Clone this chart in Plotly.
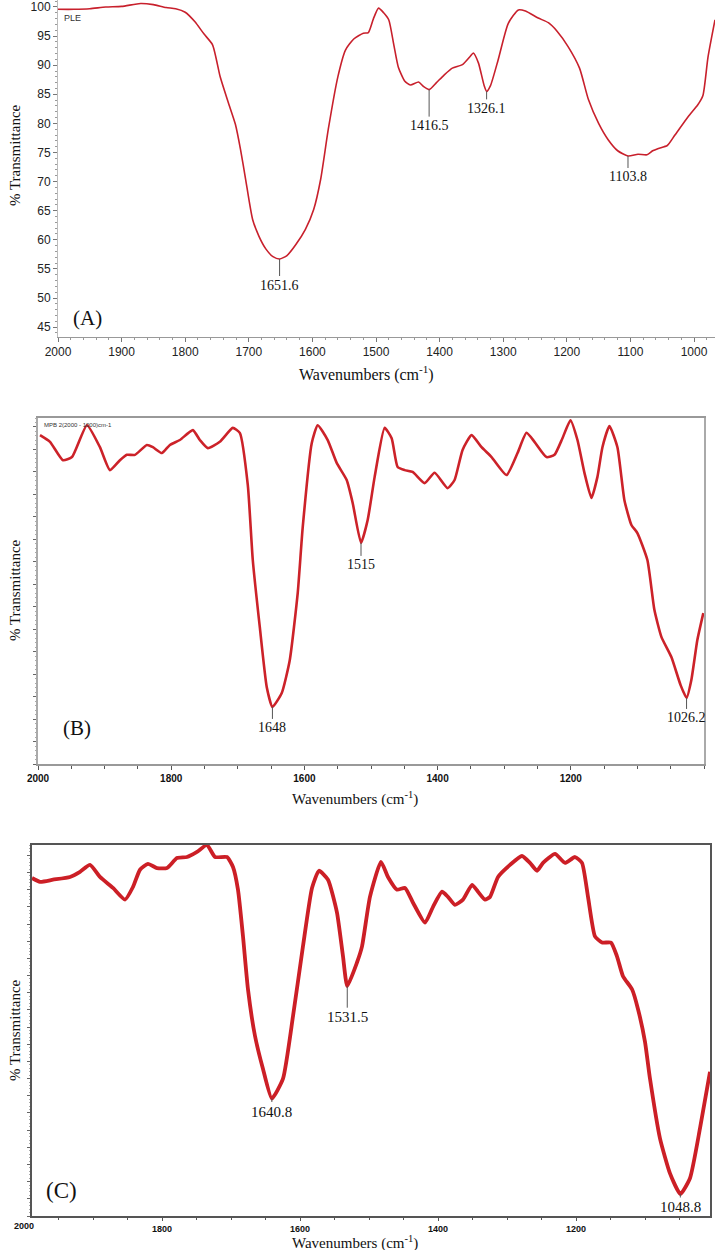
import plotly.graph_objects as go

# ---------------- Panel A data ----------------
wn_a = [2000, 1975, 1950, 1925, 1900, 1870, 1850, 1830, 1815, 1800, 1785, 1770, 1757, 1745,
        1732, 1721, 1713, 1705, 1694, 1684, 1673, 1662, 1651.6, 1640, 1626, 1611, 1598, 1587,
        1575, 1560, 1548, 1535, 1520, 1512, 1504, 1496, 1488, 1480, 1472, 1465, 1455, 1446,
        1433, 1425, 1416.5, 1405, 1393, 1380, 1364, 1352, 1347, 1339, 1330, 1326.1, 1320,
        1308, 1292, 1276, 1265, 1245, 1229, 1215, 1198, 1180, 1166, 1150, 1135, 1120, 1103.8,
        1088, 1074, 1065, 1056, 1042, 1030, 1009, 994, 986, 978, 967]
t_a = [99.6, 99.6, 99.7, 100.0, 100.1, 100.6, 100.4, 99.9, 99.7, 99.1, 97.5, 95.3, 93.5, 88.0,
       83.5, 79.8, 75.5, 70.4, 63.5, 60.6, 58.4, 57.1, 56.7, 57.3, 59.2, 61.8, 65.2, 70.4,
       79.0, 88.0, 92.6, 94.5, 95.5, 95.6, 98.0, 99.8, 99.0, 97.8, 93.5, 89.7, 87.3, 86.6,
       87.1, 86.3, 85.8, 87.0, 88.3, 89.5, 90.1, 91.5, 92.1, 90.4, 86.5, 85.5, 86.5,
       90.9, 97.2, 99.5, 99.3, 98.1, 97.3, 95.8, 93.2, 89.5, 84.1, 80.0, 77.2, 75.3, 74.4,
       74.7, 74.6, 75.3, 75.7, 76.2, 78.0, 81.2, 83.2, 84.8, 91.4, 97.8]
peaks_a = [1651.6, 1416.5, 1326.1, 1103.8]
peak_t_a = [56.7, 85.8, 85.5, 74.4]
peak_lbl_a = ["1651.6", "1416.5", "1326.1", "1103.8"]
peak_off_a = [26, 36, 17, 21]
yticks_a = [45, 50, 55, 60, 65, 70, 75, 80, 85, 90, 95, 100]
xticks_a = [2000, 1900, 1800, 1700, 1600, 1500, 1400, 1300, 1200, 1100, 1000]

# ---------------- Panel B data ----------------
wn_b = [1997, 1982, 1962.5, 1949, 1926.5, 1907, 1892, 1877, 1866.5, 1854.5, 1836.5, 1827.5,
        1814, 1802, 1787, 1767.5, 1757, 1745, 1727, 1707.5, 1697, 1685, 1677.5, 1667, 1656.5,
        1648, 1634, 1622, 1610, 1602.5, 1589, 1580, 1565, 1551.5, 1536.5, 1527.5, 1515,
        1505, 1494.5, 1479.5, 1469, 1460, 1449.5, 1437.5, 1419.5, 1404.5, 1385, 1374.5,
        1362.5, 1349, 1334, 1319, 1296.5, 1280, 1266.5, 1254.5, 1236.5, 1224.5, 1212.5,
        1200.5, 1190, 1179.5, 1169, 1160, 1152.5, 1142, 1130, 1119.5, 1109, 1100, 1085,
        1074.5, 1064, 1049, 1035, 1026.2, 1019, 1010, 1001]
t_b = [73.2, 71.7, 67.6, 68.3, 75.4, 70.5, 65.4, 67.6, 68.8, 68.8, 71.0, 70.5,
       69.2, 71.0, 72.1, 74.3, 72.1, 70.3, 71.7, 74.8, 73.7, 62.1, 45.4, 30.5, 17.1,
       12.7, 15.8, 23.1, 38.1, 52.7, 71.4, 75.4, 72.1, 67.0, 63.2, 58.1, 49.2,
       54.3, 63.9, 74.8, 72.5, 66.1, 65.4, 65.0, 62.5, 64.8, 61.4, 63.2,
       69.9, 73.2, 70.5, 68.3, 64.3, 69.2, 73.7, 71.7, 68.3, 68.8, 72.5,
       76.5, 72.1, 64.8, 59.2, 63.9, 70.5, 75.2, 70.5, 58.7, 53.2, 51.4, 45.4,
       34.3, 28.3, 23.8, 17.5, 14.7, 18.7, 27.6, 33.6]
peaks_b = [1648, 1515, 1026.2]
peak_t_b = [12.7, 49.2, 14.7]
peak_lbl_b = ["1648", "1515", "1026.2"]
peak_off_b = [21, 22, 20]
xticks_b = [2000, 1800, 1600, 1400, 1200]

# ---------------- Panel C data ----------------
wn_c = [1988.4, 1976.8, 1958, 1933.3, 1918.8, 1904.3, 1889.9, 1871, 1853.6, 1842, 1831.9,
        1820.3, 1807.2, 1792.8, 1778.3, 1763.8, 1749.3, 1734.8, 1723.2, 1705.8, 1697.1,
        1689.9, 1682.6, 1675.4, 1665.2, 1653.6, 1640.8, 1624.6, 1610.1, 1595.7, 1582.6,
        1572.5, 1559.4, 1546.4, 1537.7, 1531.5, 1517.4, 1510.1, 1498.6, 1482.6, 1472.5,
        1459.4, 1447.8, 1436.2, 1418.8, 1407.2, 1394.2, 1385.5, 1375.4, 1363.8, 1350.7,
        1342, 1331.9, 1324.6, 1313, 1295.7, 1278.3, 1266.7, 1256.5, 1247.8, 1230.4, 1215.9,
        1201.4, 1191.3, 1182.6, 1172.5, 1162.3, 1149.3, 1140.6, 1131.9, 1118.8, 1110.1,
        1100, 1092.8, 1078.3, 1063.8, 1048.8, 1034.8, 1020.3, 1005.8]
t_c = [98.4, 97.3, 97.9, 98.7, 100.2, 102.2, 98.7, 95.5, 92.1, 95.8, 100.8,
       102.5, 101.3, 101.3, 104.2, 104.5, 106.0, 108.0, 104.5, 104.5, 101.6,
       95.0, 81.4, 66.0, 52.4, 42.8, 34.2, 40.0, 58.2, 78.5, 95.5,
       100.5, 97.9, 88.3, 75.6, 66.9, 73.8, 78.5, 92.9, 103.1, 98.7,
       95.0, 95.5, 91.2, 85.4, 90.0, 94.4, 92.9, 90.6, 92.1, 96.4,
       94.4, 92.1, 92.9, 98.7, 102.2, 104.8, 102.8, 100.5, 102.8, 105.4, 102.8,
       104.5, 102.8, 92.9, 81.4, 79.6, 79.6, 75.6, 69.8, 66.0, 60.2,
       50.7, 40.0, 22.6, 12.4, 6.4, 11.0, 25.5, 42.0]
peaks_c = [1640.8, 1531.5, 1048.8]
peak_t_c = [34.2, 66.9, 6.4]
peak_lbl_c = ["1640.8", "1531.5", "1048.8"]
peak_off_c = [13, 31, 13]
xticks_c = [2000, 1800, 1600, 1400, 1200]

SERIF = "Liberation Serif, Times New Roman, serif"
SANS = "Liberation Sans Narrow, Liberation Sans, Arial, sans-serif"
W, H = 715, 1250

def px_x(p):
    return p / W

def px_y(p):
    return 1 - p / H

C_DOM = [px_x(32), px_x(710)]
C_RANGE = [1988.4, 1005.8]

fig = go.Figure()
fig.add_trace(go.Scatter(x=wn_a, y=t_a, mode="lines", line=dict(color="#c8202c", width=1.6, shape="spline", smoothing=0.6),
                         xaxis="x", yaxis="y", showlegend=False))
fig.add_trace(go.Scatter(x=wn_b, y=t_b, mode="lines", line=dict(color="#cc2229", width=2.6, shape="spline", smoothing=0.5),
                         xaxis="x2", yaxis="y2", showlegend=False))
fig.add_trace(go.Scatter(x=wn_c, y=t_c, mode="lines", line=dict(color="#cc1f26", width=3.8, shape="spline", smoothing=0.5),
                         xaxis="x3", yaxis="y3", showlegend=False))

layout = dict(
    width=W, height=H, margin=dict(l=0, r=0, t=0, b=0, autoexpand=False),
    paper_bgcolor="white", plot_bgcolor="white",
    # Panel A
    xaxis=dict(domain=[px_x(58), 1.0], range=[2000, 967], anchor="y", automargin=False,
               tickvals=xticks_a, ticks="outside", ticklen=4, tickcolor="#777",
               showline=True, linecolor="#999", linewidth=1, showgrid=False, zeroline=False,
               tickfont=dict(family=SANS, size=12, color="#222"),
               minor=dict(dtick=20, ticklen=2, tickcolor="#999", ticks="outside", showgrid=False)),
    yaxis=dict(domain=[px_y(337), 1.0], range=[43.3, 101.2], anchor="x", automargin=False,
               tickvals=yticks_a, ticks="outside", ticklen=4, tickcolor="#777",
               showline=True, linecolor="#bbb", linewidth=1, showgrid=False, zeroline=False,
               tickfont=dict(family=SANS, size=12, color="#222"),
               minor=dict(dtick=1, ticklen=2, tickcolor="#999", ticks="outside", showgrid=False)),
    # Panel B
    xaxis2=dict(domain=[px_x(38), px_x(704)], range=[2000, 1000], anchor="y2", automargin=False,
                tickvals=xticks_b, ticks="outside", ticklen=4, tickcolor="#555",
                showline=True, linecolor="#999", linewidth=1.5, mirror=True, showgrid=False, zeroline=False,
                tickfont=dict(family=SANS, size=10, color="#111", weight="bold"),
                minor=dict(dtick=50, ticklen=3, tickcolor="#555", ticks="outside", showgrid=False)),
    yaxis2=dict(domain=[px_y(764), px_y(418)], range=[0, 77], anchor="x2", automargin=False,
                dtick=5, showticklabels=False, ticks="outside", ticklen=3, tickcolor="#666",
                showline=True, linecolor="#aaa", linewidth=1.5, mirror=True, showgrid=False, zeroline=False,
                minor=dict(dtick=1, ticklen=1, tickcolor="#aaa", ticks="outside", showgrid=False)),
    # Panel C
    xaxis3=dict(domain=C_DOM, range=C_RANGE, anchor="y3", automargin=False,
                tickvals=xticks_c, ticks="outside", ticklen=3, tickcolor="#555",
                showline=True, linecolor="#555", linewidth=1.5, mirror=True, showgrid=False, zeroline=False,
                tickfont=dict(family=SANS, size=9, color="#111", weight="bold"),
                minor=dict(dtick=50, ticklen=2, tickcolor="#555", ticks="outside", showgrid=False)),
    yaxis3=dict(domain=[px_y(1216), px_y(845)], range=[0, 108], anchor="x3", automargin=False,
                dtick=5, showticklabels=False, ticks="outside", ticklen=3, tickcolor="#666",
                showline=True, linecolor="#555", linewidth=1.5, mirror=True, showgrid=False, zeroline=False,
                minor=dict(dtick=1, ticklen=1, tickcolor="#aaa", ticks="outside", showgrid=False)),
)
fig.update_layout(**layout)

ann = []
def peak_anns(xs, ys, labels, offs, xref, yref, size):
    for x, y, l, o in zip(xs, ys, labels, offs):
        ann.append(dict(x=x, y=y, xref=xref, yref=yref, text=l, showarrow=True, arrowhead=0,
                        arrowwidth=1, arrowcolor="#555", ax=0, ay=o, standoff=0,
                        font=dict(family=SERIF, size=size, color="#111")))

peak_anns(peaks_a, peak_t_a, peak_lbl_a, peak_off_a, "x", "y", 14)
peak_anns(peaks_b, peak_t_b, peak_lbl_b, peak_off_b, "x2", "y2", 14)
peak_anns(peaks_c, peak_t_c, peak_lbl_c, peak_off_c, "x3", "y3", 15)

def ptext(x, y, text, size, family=SERIF, angle=0, color="#111", weight="normal"):
    ann.append(dict(x=x, y=px_y(y), xref="paper", yref="paper", text=text, showarrow=False,
                    textangle=angle, xanchor="center", yanchor="middle",
                    font=dict(family=family, size=size, color=color, weight=weight)))

xt = "Wavenumbers (cm<sup>-1</sup>)"
ptext(px_x(366), 373, xt, 16)
ptext(px_x(355), 798, xt, 15)
ptext(px_x(355), 1242, xt, 15)
ptext(px_x(15), 155, "% Transmittance", 15, angle=-90)
ptext(px_x(15), 590, "% Transmittance", 15, angle=-90)
ptext(px_x(15), 1030, "% Transmittance", 15, angle=-90)
ptext(px_x(87), 318, "(A)", 21)
ptext(px_x(77), 728, "(B)", 21)
ptext(px_x(62), 1190, "(C)", 23)
ptext(px_x(72), 18, "PLE", 9, family="Liberation Sans, Arial, sans-serif", color="#333")
ptext(px_x(78), 425, "MPB 2(2000 - 1000)cm-1", 6, family="Liberation Sans, Arial, sans-serif", color="#333")

# clipped "2000" tick label of panel C, lying left of the plotted range
frac = (C_RANGE[0] - xticks_c[0]) / (C_RANGE[0] - C_RANGE[1])
x2000 = C_DOM[0] + frac * (C_DOM[1] - C_DOM[0])
ptext(x2000, 1226, "2000", 9, family=SANS, weight="bold")

fig.update_layout(annotations=ann)
fig.write_html("out.html", config={"displayModeBar": False},
               post_script="document.body.style.margin='0';document.body.style.overflow='hidden';")
